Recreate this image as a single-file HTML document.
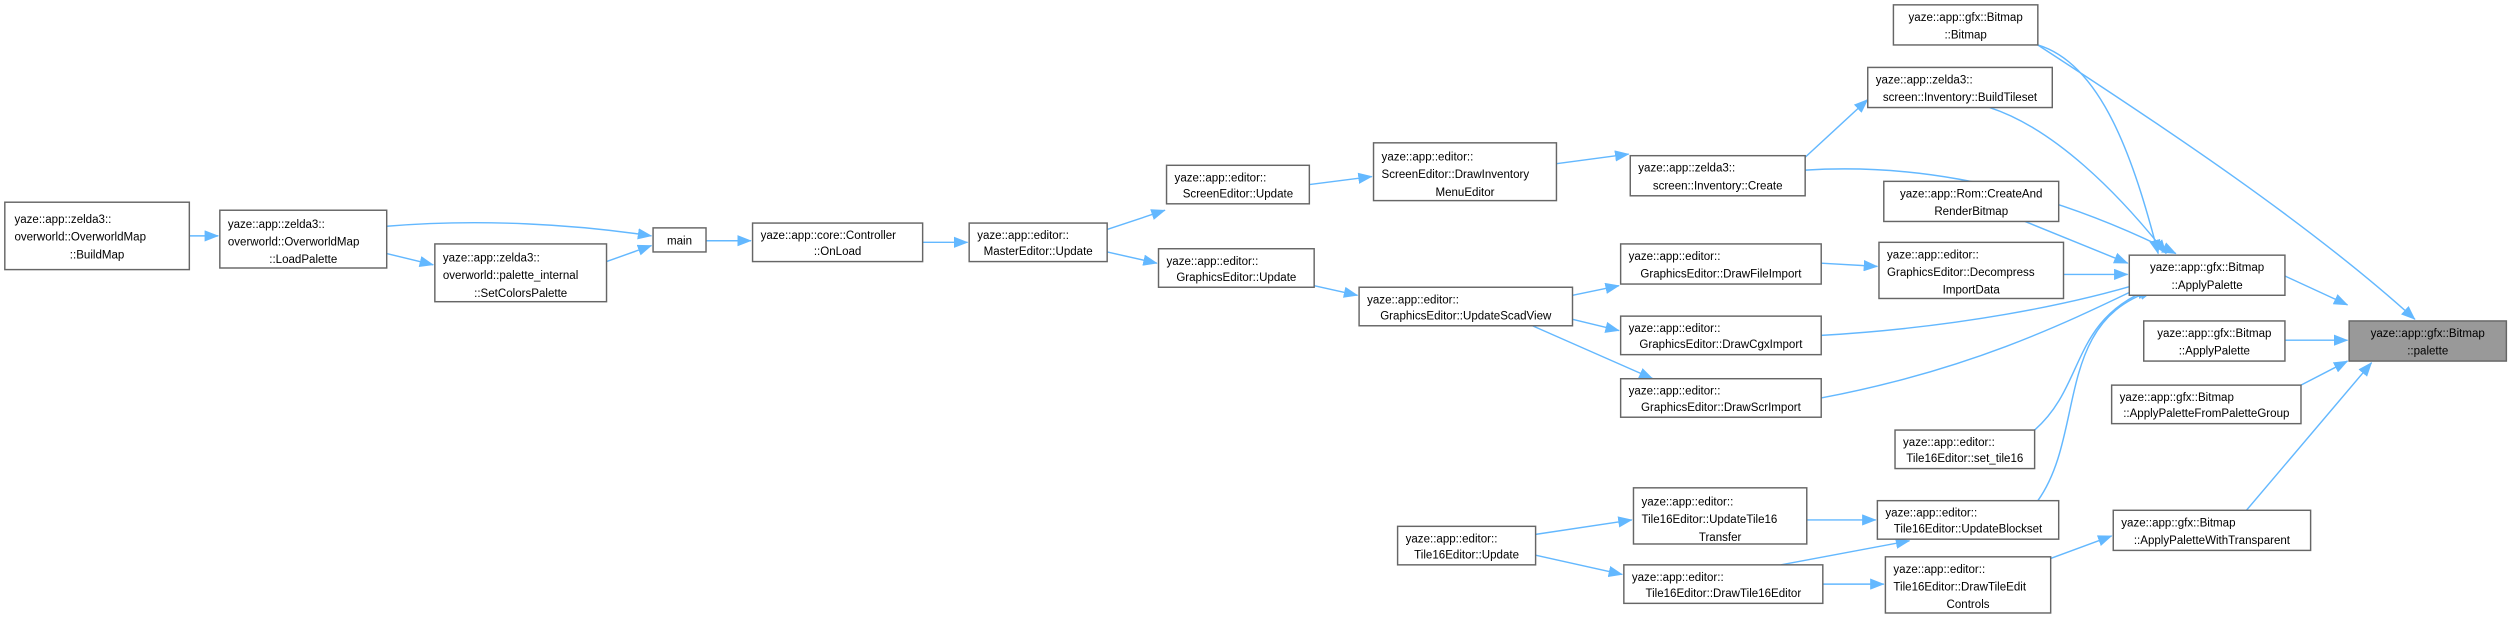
<!DOCTYPE html>
<html><head><meta charset="utf-8"><style>html,body{margin:0;padding:0;background:#fff}svg{display:block}</style></head>
<body>
<svg width="2516" height="622" viewBox="0 0 1568 387.6" xmlns="http://www.w3.org/2000/svg" font-family="'Liberation Sans', sans-serif" font-size="7.2">
<defs><marker id="a" markerWidth="9" markerHeight="7" refX="8.5" refY="3.5" orient="auto" markerUnits="userSpaceOnUse"><path d="M0,0 L9,3.5 L0,7 z" fill="#63b8ff"/></marker></defs>
<g fill="none" stroke="#63b8ff" stroke-width="0.9" marker-end="url(#a)">
<path d="M118,147 L136,147"/>
<path d="M241,141 C300,136 360,140 406,147"/>
<path d="M241,158 L270,165"/>
<path d="M378,163 L406,153"/>
<path d="M440,150 L468,150"/>
<path d="M575,151 L603,151"/>
<path d="M690,143 L726,131"/>
<path d="M690,157 L721,164"/>
<path d="M816,115 L855,110"/>
<path d="M970,102 L1015,96"/>
<path d="M1125,98 L1164,62"/>
<path d="M819,178 L846,184"/>
<path d="M980,184 L1009,178"/>
<path d="M980,199 L1009,206"/>
<path d="M955,203 L1030,236"/>
<path d="M1135,164 L1170,166"/>
<path d="M1125,106 C1220,100 1300,130 1356,158"/>
<path d="M1240,67 C1280,80 1320,120 1350,158"/>
<path d="M1270,28 C1310,40 1330,100 1345,158"/>
<path d="M1270,28 C1350,80 1440,140 1505,199"/>
<path d="M1262,138 L1326,164"/>
<path d="M1286,171 L1326,171"/>
<path d="M1135,209 C1220,204 1290,190 1336,176"/>
<path d="M1135,248 C1230,230 1290,200 1338,177"/>
<path d="M1268,268 C1300,240 1290,200 1340,180"/>
<path d="M1270,312 C1300,270 1280,200 1342,181"/>
<path d="M1424,172 L1463,190"/>
<path d="M1424,212 L1463,212"/>
<path d="M1434,240 L1463,225"/>
<path d="M1400,318 L1478,226"/>
<path d="M957,333 L1017,324"/>
<path d="M957,346 L1011,358"/>
<path d="M1126,324 L1169,324"/>
<path d="M1110,352 L1190,337"/>
<path d="M1136,364 L1174,364"/>
<path d="M1278,348 L1316,334"/>
</g>
<g stroke="#666" stroke-width="0.9" fill="#fff">
<rect x="3" y="126" width="115" height="42"/>
<rect x="137" y="131" width="104" height="36"/>
<rect x="271" y="152" width="107" height="36"/>
<rect x="407" y="142" width="33" height="15"/>
<rect x="469" y="139" width="106" height="24"/>
<rect x="604" y="139" width="86" height="24"/>
<rect x="727" y="103" width="89" height="24"/>
<rect x="722" y="155" width="97" height="24"/>
<rect x="856" y="89" width="114" height="36"/>
<rect x="847" y="179" width="133" height="24"/>
<rect x="1016" y="97" width="109" height="25"/>
<rect x="1010" y="152" width="125" height="25"/>
<rect x="1010" y="197" width="125" height="24"/>
<rect x="1010" y="236" width="125" height="24"/>
<rect x="1180" y="3" width="90" height="25"/>
<rect x="1164" y="42" width="115" height="25"/>
<rect x="1174" y="113" width="109" height="25"/>
<rect x="1171" y="151" width="115" height="35"/>
<rect x="1327" y="159" width="97" height="25"/>
<rect x="1336" y="200" width="88" height="25"/>
<rect x="1316" y="240" width="118" height="24"/>
<rect x="1181" y="268" width="87" height="24"/>
<rect x="1170" y="312" width="113" height="24"/>
<rect x="1317" y="318" width="123" height="25"/>
<rect x="1018" y="304" width="108" height="35"/>
<rect x="871" y="328" width="86" height="24"/>
<rect x="1012" y="352" width="124" height="24"/>
<rect x="1175" y="347" width="103" height="35"/>
<rect x="1464" y="200" width="98" height="25" fill="#999"/>
</g>
<g fill="#000">
<text x="9" y="139">yaze::app::zelda3::</text><text x="9" y="150">overworld::OverworldMap</text><text x="60.5" y="161" text-anchor="middle">::BuildMap</text>
<text x="142" y="142">yaze::app::zelda3::</text><text x="142" y="153">overworld::OverworldMap</text><text x="189" y="164" text-anchor="middle">::LoadPalette</text>
<text x="276" y="163">yaze::app::zelda3::</text><text x="276" y="174">overworld::palette_internal</text><text x="324.5" y="185" text-anchor="middle">::SetColorsPalette</text>
<text x="423.5" y="152.5" text-anchor="middle">main</text>
<text x="474" y="149">yaze::app::core::Controller</text><text x="522" y="159" text-anchor="middle">::OnLoad</text>
<text x="609" y="149">yaze::app::editor::</text><text x="647" y="159" text-anchor="middle">MasterEditor::Update</text>
<text x="732" y="113">yaze::app::editor::</text><text x="771.5" y="123" text-anchor="middle">ScreenEditor::Update</text>
<text x="727" y="165">yaze::app::editor::</text><text x="770.5" y="175" text-anchor="middle">GraphicsEditor::Update</text>
<text x="861" y="100">yaze::app::editor::</text><text x="861" y="111">ScreenEditor::DrawInventory</text><text x="913" y="122" text-anchor="middle">MenuEditor</text>
<text x="852" y="189">yaze::app::editor::</text><text x="913.5" y="199" text-anchor="middle">GraphicsEditor::UpdateScadView</text>
<text x="1021" y="107">yaze::app::zelda3::</text><text x="1070.5" y="118" text-anchor="middle">screen::Inventory::Create</text>
<text x="1015" y="162">yaze::app::editor::</text><text x="1072.5" y="173" text-anchor="middle">GraphicsEditor::DrawFileImport</text>
<text x="1015" y="207">yaze::app::editor::</text><text x="1072.5" y="217" text-anchor="middle">GraphicsEditor::DrawCgxImport</text>
<text x="1015" y="246">yaze::app::editor::</text><text x="1072.5" y="256" text-anchor="middle">GraphicsEditor::DrawScrImport</text>
<text x="1225" y="13" text-anchor="middle">yaze::app::gfx::Bitmap</text><text x="1225" y="24" text-anchor="middle">::Bitmap</text>
<text x="1169" y="52">yaze::app::zelda3::</text><text x="1221.5" y="63" text-anchor="middle">screen::Inventory::BuildTileset</text>
<text x="1228.5" y="123" text-anchor="middle">yaze::app::Rom::CreateAnd</text><text x="1228.5" y="134" text-anchor="middle">RenderBitmap</text>
<text x="1176" y="161">yaze::app::editor::</text><text x="1176" y="172">GraphicsEditor::Decompress</text><text x="1228.5" y="183" text-anchor="middle">ImportData</text>
<text x="1375.5" y="169" text-anchor="middle">yaze::app::gfx::Bitmap</text><text x="1375.5" y="180" text-anchor="middle">::ApplyPalette</text>
<text x="1380" y="210" text-anchor="middle">yaze::app::gfx::Bitmap</text><text x="1380" y="221" text-anchor="middle">::ApplyPalette</text>
<text x="1321" y="250">yaze::app::gfx::Bitmap</text><text x="1375" y="260" text-anchor="middle">::ApplyPaletteFromPaletteGroup</text>
<text x="1186" y="278">yaze::app::editor::</text><text x="1224.5" y="288" text-anchor="middle">Tile16Editor::set_tile16</text>
<text x="1175" y="322">yaze::app::editor::</text><text x="1226.5" y="332" text-anchor="middle">Tile16Editor::UpdateBlockset</text>
<text x="1322" y="328">yaze::app::gfx::Bitmap</text><text x="1378.5" y="339" text-anchor="middle">::ApplyPaletteWithTransparent</text>
<text x="1023" y="315">yaze::app::editor::</text><text x="1023" y="326">Tile16Editor::UpdateTile16</text><text x="1072" y="337" text-anchor="middle">Transfer</text>
<text x="876" y="338">yaze::app::editor::</text><text x="914" y="348" text-anchor="middle">Tile16Editor::Update</text>
<text x="1017" y="362">yaze::app::editor::</text><text x="1074" y="372" text-anchor="middle">Tile16Editor::DrawTile16Editor</text>
<text x="1180" y="357">yaze::app::editor::</text><text x="1180" y="368">Tile16Editor::DrawTileEdit</text><text x="1226.5" y="379" text-anchor="middle">Controls</text>
<text x="1513" y="210" text-anchor="middle">yaze::app::gfx::Bitmap</text><text x="1513" y="221" text-anchor="middle">::palette</text>
</g>
</svg>
</body></html>
